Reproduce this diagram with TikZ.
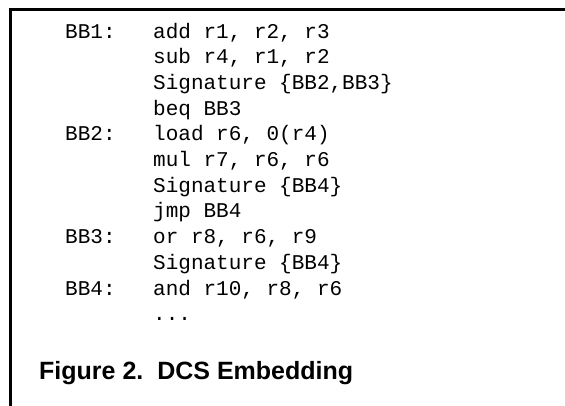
\documentclass[tikz,border=0pt]{standalone}
\usepackage{fontspec}
\newfontfamily\codefont{Liberation Mono}
\newfontfamily\capfont{Liberation Sans}
\begin{document}
\begin{tikzpicture}[x=1pt,y=-1pt,
  code/.style={anchor=base west,inner sep=0pt,font=\codefont\fontsize{21}{24}\selectfont},
  captext/.style={anchor=base west,inner sep=0pt,font=\capfont\bfseries\fontsize{25}{30}\selectfont},
  frame/.style={line width=3pt,line cap=rect}]
\useasboundingbox (0,0) rectangle (565,405);
\draw[frame] (570,9.5) -- (10.5,9.5) -- (10.5,410);
\node[code] (l1) at (65,38) {BB1:};
\node[code] (c1) at (153,38) {add r1, r2, r3};
\node[code] (c2) at (153,63.7) {sub r4, r1, r2};
\node[code] (c3) at (153,89.4) {Signature \{BB2,BB3\}};
\node[code] (c4) at (153,115.1) {beq BB3};
\node[code] (l2) at (65,140.8) {BB2:};
\node[code] (c5) at (153,140.8) {load r6, 0(r4)};
\node[code] (c6) at (153,166.5) {mul r7, r6, r6};
\node[code] (c7) at (153,192.2) {Signature \{BB4\}};
\node[code] (c8) at (153,217.9) {jmp BB4};
\node[code] (l3) at (65,243.6) {BB3:};
\node[code] (c9) at (153,243.6) {or r8, r6, r9};
\node[code] (c10) at (153,269.3) {Signature \{BB4\}};
\node[code] (l4) at (65,295) {BB4:};
\node[code] (c11) at (153,295) {and r10, r8, r6};
\node[code] (c12) at (153,320.7) {...};
\node[captext] (cap) at (39,379) {Figure 2.\ \ DCS Embedding};
\end{tikzpicture}
\end{document}
